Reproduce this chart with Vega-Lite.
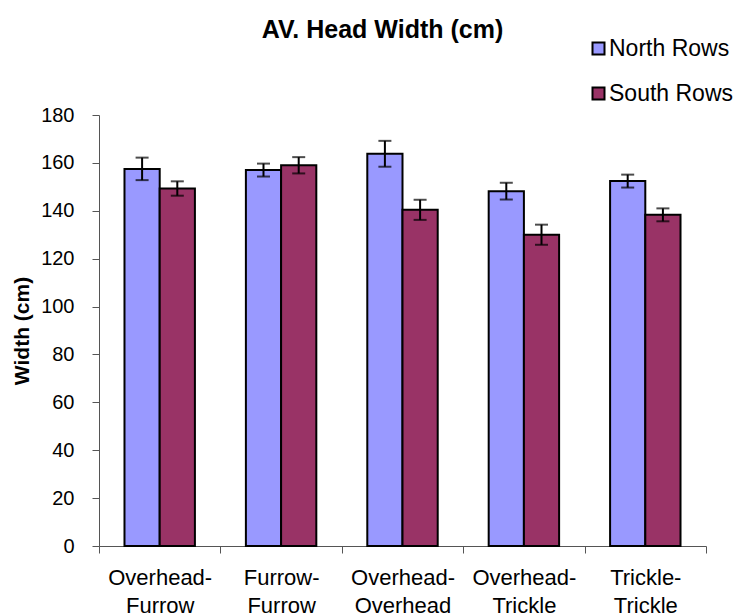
{
  "$schema": "https://vega.github.io/schema/vega-lite/v6.json",
  "width": 607,
  "height": 431,
  "autosize": {"type": "none"},
  "padding": {"left": 99, "top": 115, "right": 31, "bottom": 69},
  "background": "white",
  "config": {"view": {"stroke": null}, "font": "Liberation Sans"},
  "title": {"text": "AV. Head Width (cm)", "fontSize": 25, "fontWeight": "bold", "font": "Liberation Sans", "color": "black", "anchor": "middle", "baseline": "alphabetic", "offset": -26, "dx": -20},
  "data": {"values": [
    {"treatment": "Overhead-Furrow", "series": "North Rows", "mean": 157.5, "lo": 152.8, "hi": 162.2},
    {"treatment": "Overhead-Furrow", "series": "South Rows", "mean": 149.3, "lo": 146.3, "hi": 152.3},
    {"treatment": "Furrow-Furrow", "series": "North Rows", "mean": 157.0, "lo": 154.3, "hi": 159.7},
    {"treatment": "Furrow-Furrow", "series": "South Rows", "mean": 159.0, "lo": 155.6, "hi": 162.4},
    {"treatment": "Overhead-Overhead", "series": "North Rows", "mean": 163.8, "lo": 158.4, "hi": 169.2},
    {"treatment": "Overhead-Overhead", "series": "South Rows", "mean": 140.4, "lo": 136.2, "hi": 144.6},
    {"treatment": "Overhead-Trickle", "series": "North Rows", "mean": 148.2, "lo": 144.7, "hi": 151.7},
    {"treatment": "Overhead-Trickle", "series": "South Rows", "mean": 130.0, "lo": 125.8, "hi": 134.2},
    {"treatment": "Trickle-Trickle", "series": "North Rows", "mean": 152.4, "lo": 149.7, "hi": 155.1},
    {"treatment": "Trickle-Trickle", "series": "South Rows", "mean": 138.3, "lo": 135.6, "hi": 141.0}
  ]},
  "encoding": {
    "x": {"field": "treatment", "type": "nominal", "sort": null,
      "scale": {"paddingInner": 0, "paddingOuter": 0},
      "axis": {"title": null, "labelAngle": 0, "labelFontSize": 22, "labelColor": "black", "labelFont": "Liberation Sans",
        "labelExpr": "isValid(datum.value) ? [split(datum.value, '-')[0] + '-', split(datum.value, '-')[1]] : ''",
        "labelLineHeight": 28, "labelPadding": 14, "tickBand": "extent", "tickSize": 7,
        "domainColor": "#555", "tickColor": "#555", "labelBaseline": "top"}},
    "xOffset": {"field": "series", "type": "nominal", "sort": ["North Rows", "South Rows"],
      "scale": {"paddingInner": 0, "paddingOuter": 0.724}}
  },
  "layer": [
    {
      "mark": {"type": "bar", "stroke": "black", "strokeWidth": 2},
      "encoding": {
        "y": {"field": "mean", "type": "quantitative", "scale": {"domain": [0, 180]},
          "axis": {"title": "Width (cm)", "titleFontSize": 21, "titleFontWeight": "bold", "titleColor": "black", "titlePadding": 8,
            "values": [0, 20, 40, 60, 80, 100, 120, 140, 160, 180], "grid": false, "labelFontSize": 20, "labelColor": "black",
            "tickSize": 7, "labelPadding": 18, "domainColor": "#555", "tickColor": "#555"}},
        "color": {"field": "series", "type": "nominal",
          "scale": {"domain": ["North Rows", "South Rows"], "range": ["#9999FF", "#993366"]},
          "legend": {"title": null, "orient": "none", "legendX": 488, "legendY": -78, "padding": 0, "symbolType": "square", "symbolSize": 144,
            "symbolStrokeColor": "black", "symbolStrokeWidth": 2, "labelFontSize": 23, "labelColor": "black", "rowPadding": 21, "labelOffset": -1}}
      }
    },
    {
      "mark": {"type": "rule", "color": "black", "strokeWidth": 2},
      "encoding": {"y": {"field": "lo", "type": "quantitative"}, "y2": {"field": "hi"}}
    },
    {
      "mark": {"type": "tick", "color": "black", "thickness": 2, "size": 13},
      "encoding": {"y": {"field": "lo", "type": "quantitative"}}
    },
    {
      "mark": {"type": "tick", "color": "black", "thickness": 2, "size": 13},
      "encoding": {"y": {"field": "hi", "type": "quantitative"}}
    }
  ]
}
